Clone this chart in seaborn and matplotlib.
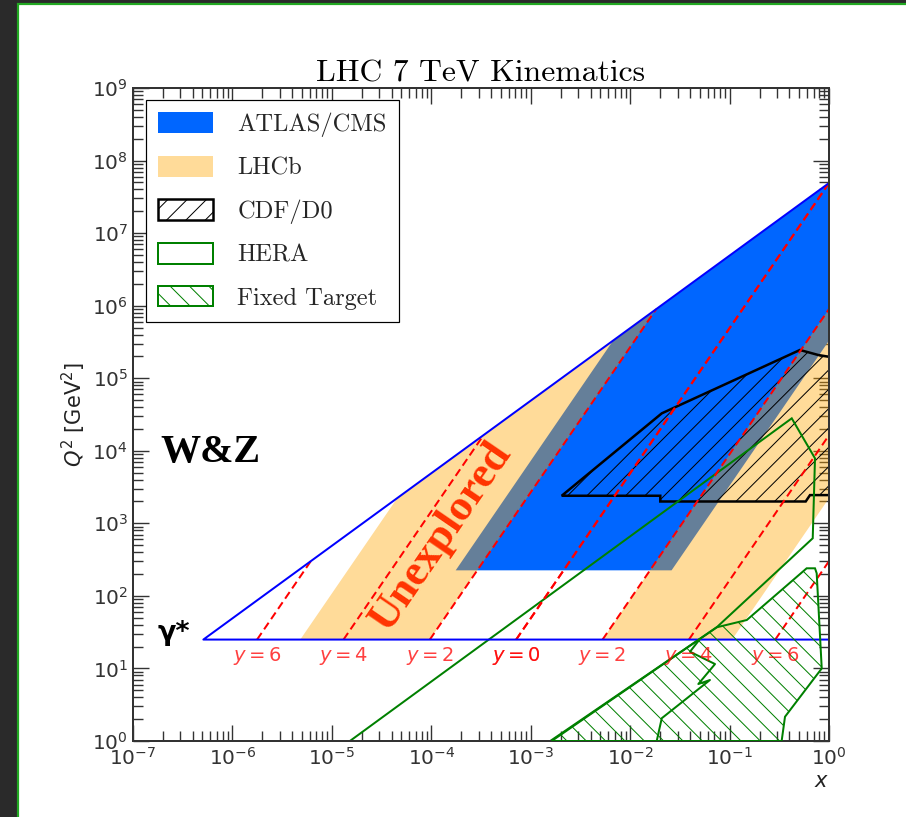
import numpy as np
import pandas as pd
import matplotlib
matplotlib.use("Agg")
import matplotlib.pyplot as plt
from matplotlib.patches import Rectangle
from matplotlib.ticker import LogLocator, NullFormatter
import seaborn as sns

# ---------------- data ----------------
# kinematic limit of LHC 7 TeV (upper diagonal + Q2 = 25 GeV^2 cut)
limit_x = [1.0, 5.1e-7, 1.0]
limit_q2 = [4.9e7, 25.0, 25.0]

# ATLAS/CMS acceptance
atlas_x = [1.76e-4, 6.74e-3, 1.0, 1.0, 2.61e-2]
atlas_q2 = [225.0, 3.30e5, 4.9e7, 3.30e5, 225.0]

# LHCb acceptance (two bands)
lhcb_left_x = [4.81e-6, 4.54e-5, 1.83e-2, 9.67e-5]
lhcb_left_q2 = [25.0, 2.22e3, 8.98e5, 25.0]
lhcb_right_x = [5.28e-3, 1.0, 1.0, 0.106]
lhcb_right_q2 = [25.0, 8.98e5, 2.22e3, 25.0]

# CDF/D0
cdf_x = [2.05e-3, 2.08e-2, 0.51, 0.78, 1.3, 1.3, 0.644, 0.583, 2.01e-2, 2.01e-2]
cdf_q2 = [2.40e3, 3.28e4, 2.45e5, 2.09e5, 1.86e5, 2.45e3, 2.45e3, 2.0e3, 2.0e3, 2.40e3]

# HERA
hera_x = [7.6e-6, 0.422, 0.723, 0.686, 7.42e-2, 7.5e-4]
hera_q2 = [0.5, 2.80e4, 7.87e3, 622.0, 36.9, 0.5]

# Fixed target
ft_x = [1.625e-3, 7.42e-2, 0.149, 0.596, 0.723, 0.752, 0.845, 0.361, 0.334]
ft_q2 = [1.0, 36.9, 46.5, 240.0, 240.0, 205.0, 10.0, 2.16, 1.0]
ft_inner_x = [1.85e-2, 2.08e-2, 6.35e-2, 4.85e-2, 7.14e-2, 4.0e-2, 5.04e-2]
ft_inner_q2 = [1.0, 2.06, 6.93, 6.1, 11.5, 17.0, 25.5]

# lines of constant rapidity |y|
rap_abs = [0, 2, 4, 6]
neg_x_lo = [7.14e-4, 9.67e-5, 1.31e-5, 1.77e-6]
neg_x_hi = [1.0, 1.83e-2, 3.35e-4, 6.14e-6]
pos_x_lo = [7.14e-4, 5.28e-3, 3.90e-2, 0.288]
pos_x_hi = [1.0, 1.0, 1.0, 1.0]
rap_q2_hi = [4.9e7, 8.98e5, 1.64e4, 301.0]
rap_q2_lo = 25.0
rap_label_q2 = 14.8

legend_labels = ["ATLAS/CMS", "LHCb", "CDF/D0", "HERA", "Fixed Target"]

# ---------------- figure ----------------
DPI = 116
W, H = 906, 817


def pt(px):
    return px * 72.0 / DPI


sns.set_theme(style="ticks")
plt.rcParams["font.family"] = ["DejaVu Sans"]
plt.rcParams["hatch.linewidth"] = pt(1.0)
plt.rcParams["axes.edgecolor"] = "#333333"

fig = plt.figure(figsize=(W / DPI, H / DPI), dpi=DPI)
fig.patch.set_facecolor("#2a2a2a")
fig.add_artist(Rectangle((18 / W, -0.05), 1.1, 1.05 - 4 / H, transform=fig.transFigure,
                         facecolor="white", edgecolor="#22a822", lw=pt(2.2), zorder=-10))

ax = fig.add_axes([133 / W, 1 - 741 / H, (829 - 133) / W, (741 - 88) / H])
ax.set_xscale("log")
ax.set_yscale("log")
ax.set_xlim(1e-7, 1.0)
ax.set_ylim(1.0, 1e9)
ax.set_facecolor("white")

blue = "#0066ff"
ax.fill(atlas_x, atlas_q2, color=blue, lw=0, zorder=1, label=legend_labels[0])
ax.fill(lhcb_left_x, lhcb_left_q2, color="orange", alpha=0.4, lw=0, zorder=1.1,
        label=legend_labels[1])
ax.fill(lhcb_right_x, lhcb_right_q2, color="orange", alpha=0.4, lw=0, zorder=1.1)
ax.fill(cdf_x, cdf_q2, facecolor="none", edgecolor="black", hatch="//",
        lw=pt(2.5), zorder=1.3, label=legend_labels[2])
ax.fill(hera_x, hera_q2, facecolor="none", edgecolor="green", lw=pt(2.0), zorder=1.4,
        label=legend_labels[3])
ax.fill(ft_x, ft_q2, facecolor="none", edgecolor="green", hatch="\\\\", lw=pt(2.0),
        zorder=2.6, label=legend_labels[4])
sns.lineplot(x=ft_inner_x, y=ft_inner_q2, ax=ax, color="green", lw=pt(2.0),
             sort=False, estimator=None, zorder=2.6)

# rapidity lines
for x_lo_list, x_hi_list in ((neg_x_lo, neg_x_hi), (pos_x_lo, pos_x_hi)):
    for r, xl, xh, qh in zip(rap_abs, x_lo_list, x_hi_list, rap_q2_hi):
        sns.lineplot(x=[xl, xh], y=[rap_q2_lo, qh], ax=ax, color="red", lw=pt(2.0),
                     linestyle=(0, (4.0, 2.2)), sort=False, estimator=None, zorder=2.2)
        ax.text(xl, rap_label_q2, f"$y = {r}$", color="red", alpha=0.75,
                fontsize=pt(19.5), ha="center", va="center", zorder=3)

# kinematic limit
sns.lineplot(x=limit_x, y=limit_q2, ax=ax, color="blue", lw=pt(2.0), sort=False,
             estimator=None, zorder=2.3)

# annotations
ax.text(1.87e-7, 9.6e3, "W&Z", fontsize=pt(40), fontweight="bold",
        family=["Liberation Serif"], ha="left", va="center", color="black", zorder=4)
ax.text(1.75e-7, 31.0, "γ*", fontsize=pt(27), fontweight="bold",
        ha="left", va="center", color="black", zorder=4)
ax.text(1.25e-4, 669.0, "Unexplored", fontsize=pt(44), fontweight="bold",
        family=["Liberation Serif"], rotation=55.6, rotation_mode="anchor",
        ha="center", va="center", color="#ff3300", zorder=4)

# axes styling
ax.xaxis.set_major_locator(LogLocator(base=10, numticks=20))
ax.yaxis.set_major_locator(LogLocator(base=10, numticks=20))
ax.xaxis.set_minor_locator(LogLocator(base=10, subs=np.arange(2, 10), numticks=100))
ax.yaxis.set_minor_locator(LogLocator(base=10, subs=np.arange(2, 10), numticks=100))
ax.xaxis.set_minor_formatter(NullFormatter())
ax.yaxis.set_minor_formatter(NullFormatter())
ax.tick_params(which="both", direction="in", top=True, right=True, colors="#333333",
               labelsize=pt(20), width=pt(1.4))
ax.tick_params(which="major", length=pt(16))
ax.tick_params(which="minor", length=pt(10))
ax.tick_params(axis="x", pad=pt(6))
ax.tick_params(axis="y", pad=pt(5))
for s in ax.spines.values():
    s.set_linewidth(pt(2.0))
    s.set_color("#333333")

ax.set_xlabel("$x$", loc="right", fontsize=pt(21), color="#222222", labelpad=pt(2))
ax.set_ylabel("$Q^2$ [GeV$^2$]", fontsize=pt(21), color="#222222", labelpad=pt(4))
ax.set_title("LHC 7 TeV Kinematics", family=["cmr10"], fontsize=pt(31.7), pad=pt(5),
             color="black")

handles, labels = ax.get_legend_handles_labels()
order = [labels.index(l) for l in legend_labels]
leg = ax.legend([handles[i] for i in order], [labels[i] for i in order],
                loc="upper left", bbox_to_anchor=(0.0187, 0.9816), borderaxespad=0,
                prop={"family": "cmr10", "size": pt(24.5)}, frameon=True, fancybox=False,
                framealpha=1, edgecolor="black", handlelength=2.25, handleheight=0.92,
                handletextpad=0.98, labelspacing=0.78, borderpad=0.5)
leg.get_frame().set_linewidth(pt(1.2))

fig.savefig("out.png", dpi=DPI, facecolor=fig.get_facecolor())
